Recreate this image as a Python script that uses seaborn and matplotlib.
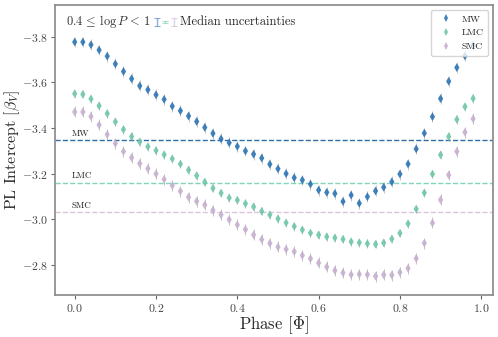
import numpy as np
import pandas as pd
import matplotlib
matplotlib.use("Agg")
import matplotlib.pyplot as plt
import seaborn as sns

# phase bins
phase = np.round(np.arange(0, 1.0, 0.02), 2)

# PL intercepts per phase bin
mw = [-3.776, -3.776, -3.764, -3.741, -3.714, -3.680, -3.647, -3.615, -3.584, -3.567,
      -3.545, -3.525, -3.495, -3.475, -3.452, -3.428, -3.402, -3.376, -3.352, -3.335,
      -3.319, -3.299, -3.285, -3.268, -3.241, -3.221, -3.200, -3.182, -3.172, -3.154,
      -3.128, -3.118, -3.113, -3.078, -3.106, -3.070, -3.099, -3.124, -3.140, -3.164,
      -3.198, -3.242, -3.308, -3.377, -3.449, -3.528, -3.604, -3.664, -3.715, -3.761]
lmc = [-3.550, -3.547, -3.527, -3.497, -3.463, -3.427, -3.393, -3.362, -3.339, -3.318,
       -3.301, -3.283, -3.265, -3.242, -3.216, -3.191, -3.163, -3.136, -3.115, -3.094,
       -3.084, -3.069, -3.055, -3.035, -3.020, -3.003, -2.985, -2.969, -2.954, -2.940,
       -2.932, -2.924, -2.919, -2.913, -2.902, -2.898, -2.894, -2.891, -2.897, -2.914,
       -2.939, -2.981, -3.045, -3.116, -3.198, -3.282, -3.362, -3.437, -3.493, -3.529]
smc = [-3.470, -3.470, -3.450, -3.413, -3.371, -3.332, -3.297, -3.270, -3.244, -3.222,
       -3.199, -3.175, -3.148, -3.123, -3.097, -3.079, -3.063, -3.040, -3.020, -2.999,
       -2.976, -2.956, -2.932, -2.912, -2.895, -2.879, -2.869, -2.859, -2.842, -2.828,
       -2.809, -2.792, -2.776, -2.766, -2.758, -2.760, -2.758, -2.751, -2.757, -2.756,
       -2.768, -2.786, -2.829, -2.896, -2.984, -3.085, -3.194, -3.297, -3.381, -3.440]

# mean (phase-independent) intercepts
galaxies = ["MW", "LMC", "SMC"]
mean_icpt = [-3.345, -3.160, -3.032]
median_err = [0.016, 0.006, 0.016]
err_x = [0.202, 0.223, 0.244]
colors = ["#2c74b4", "#6fc7a9", "#c6aecf"]
line_colors = ["#2f6fa6", "#7fd6bb", "#dcc4da"]

df = pd.DataFrame({
    "phase": np.tile(phase, 3),
    "icpt": mw + lmc + smc,
    "galaxy": np.repeat(galaxies, len(phase)),
})

sns.set_style("ticks")
plt.rcParams["font.family"] = "serif"
plt.rcParams["font.serif"] = ["cmr10", "DejaVu Serif"]
plt.rcParams["mathtext.fontset"] = "cm"
plt.rcParams["axes.formatter.use_mathtext"] = True

fig, ax = plt.subplots(figsize=(4.98, 3.37), dpi=100)
fig.subplots_adjust(left=0.110, right=0.990, top=0.985, bottom=0.125)

# small error stems behind the markers
for g, e in zip(galaxies, median_err):
    sub = df[df["galaxy"] == g]
    ax.errorbar(sub["phase"], sub["icpt"], yerr=max(e, 0.012) * 1.5, fmt="none",
                ecolor="#999999", elinewidth=0.6, alpha=0.7, zorder=2)

sns.scatterplot(data=df, x="phase", y="icpt", hue="galaxy", hue_order=galaxies,
                palette=colors, marker="d", s=20, linewidth=0, alpha=0.9,
                ax=ax, zorder=3)

# mean intercept lines
for g, lc, m in zip(galaxies, line_colors, mean_icpt):
    ax.axhline(m, ls="--", lw=1.0, color=lc, zorder=1)
    ax.text(-0.007, m - 0.01, g, fontsize=6.5, ha="left", va="bottom", color="#222222")

# median uncertainty glyphs
for x, e, c in zip(err_x, median_err, colors):
    ax.errorbar([x], [-3.864], yerr=[e], fmt="none", ecolor=c, elinewidth=1.0,
                capsize=2, capthick=0.8, alpha=0.55)
ax.text(-0.022, -3.864, r"$0.4\,\leq\,\log P\,<\,1$", fontsize=9, va="center", ha="left",
        color="#333333")
ax.text(0.259, -3.864, "Median uncertainties", fontsize=9, va="center", ha="left")

ax.invert_yaxis()
ax.set_yticks([-3.8, -3.6, -3.4, -3.2, -3.0, -2.8])
ax.set_xticks([0.0, 0.2, 0.4, 0.6, 0.8, 1.0])
ax.tick_params(labelsize=8.5, colors="#666666", labelcolor="#444444", length=3, pad=2)
for sp in ax.spines.values():
    sp.set_color("#888888")
    sp.set_linewidth(1.2)

ax.set_xlabel(r"Phase [$\Phi$]", fontsize=12, labelpad=0)
ax.set_ylabel(r"PL Intercept [$\beta_V$]", fontsize=11.5, labelpad=0)

leg = ax.legend(loc="upper right", fontsize=7, framealpha=0.8, handletextpad=0.6,
                borderpad=0.5, labelspacing=0.5, markerscale=0.9)

plt.savefig("out.png", dpi=100)
